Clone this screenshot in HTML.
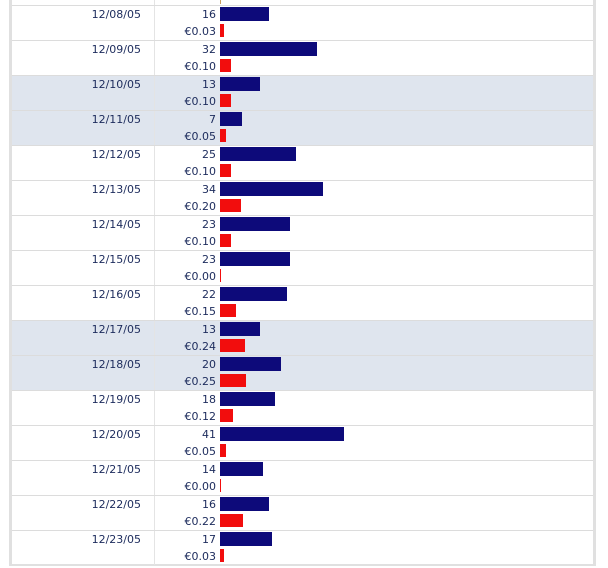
<!DOCTYPE html>
<html><head><meta charset="utf-8"><style>
body{margin:0;width:608px;height:568px;background:#fff;position:relative;overflow:hidden;font-family:"DejaVu Sans","Liberation Sans",sans-serif;font-size:11px;color:#1c2b5c}
.lb{position:absolute;left:9px;top:0;width:3px;height:566px;background:#e0e0e0}
.rb{position:absolute;left:593px;top:0;width:3px;height:566px;background:#e0e0e0}
.bb{position:absolute;left:9px;top:564px;width:587px;height:2px;background:#e0e0e0}
.r{position:absolute;left:12px;width:581px;height:35px;border-top:1px solid #dcdcdc;box-sizing:border-box}
.s{background:#dfe5ee}
.d{position:absolute;right:452px;top:1px;line-height:16px}
.n{position:absolute;right:377px;top:1px;line-height:16px}
.e{position:absolute;right:377px;top:18px;line-height:16px}
.v{position:absolute;left:142px;top:0;width:1px;height:34px;background:#e4e4e4}
.b{position:absolute;left:208px;top:1px;height:14px;background:#0d0a7a}
.x{position:absolute;left:208px;top:18px;height:13px;background:#f20d0d}
</style></head><body>
<div class="lb"></div><div class="rb"></div><div class="bb"></div>
<div style="position:absolute;left:154px;top:0;width:1px;height:5px;background:#e4e4e4"></div>
<div style="position:absolute;left:220px;top:0;width:1px;height:4px;background:#c8a060"></div>

<div class="r" style="top:5px"><div class="v"></div><div class="d">12/08/05</div><div class="n">16</div><div class="e">€0.03</div><div class="b" style="width:49px"></div><div class="x" style="width:4px"></div></div>
<div class="r" style="top:40px"><div class="v"></div><div class="d">12/09/05</div><div class="n">32</div><div class="e">€0.10</div><div class="b" style="width:97px"></div><div class="x" style="width:11px"></div></div>
<div class="r s" style="top:75px"><div class="v"></div><div class="d">12/10/05</div><div class="n">13</div><div class="e">€0.10</div><div class="b" style="width:40px"></div><div class="x" style="width:11px"></div></div>
<div class="r s" style="top:110px"><div class="v"></div><div class="d">12/11/05</div><div class="n">7</div><div class="e">€0.05</div><div class="b" style="width:22px"></div><div class="x" style="width:6px"></div></div>
<div class="r" style="top:145px"><div class="v"></div><div class="d">12/12/05</div><div class="n">25</div><div class="e">€0.10</div><div class="b" style="width:76px"></div><div class="x" style="width:11px"></div></div>
<div class="r" style="top:180px"><div class="v"></div><div class="d">12/13/05</div><div class="n">34</div><div class="e">€0.20</div><div class="b" style="width:103px"></div><div class="x" style="width:21px"></div></div>
<div class="r" style="top:215px"><div class="v"></div><div class="d">12/14/05</div><div class="n">23</div><div class="e">€0.10</div><div class="b" style="width:70px"></div><div class="x" style="width:11px"></div></div>
<div class="r" style="top:250px"><div class="v"></div><div class="d">12/15/05</div><div class="n">23</div><div class="e">€0.00</div><div class="b" style="width:70px"></div><div class="x" style="width:1px"></div></div>
<div class="r" style="top:285px"><div class="v"></div><div class="d">12/16/05</div><div class="n">22</div><div class="e">€0.15</div><div class="b" style="width:67px"></div><div class="x" style="width:16px"></div></div>
<div class="r s" style="top:320px"><div class="v"></div><div class="d">12/17/05</div><div class="n">13</div><div class="e">€0.24</div><div class="b" style="width:40px"></div><div class="x" style="width:25px"></div></div>
<div class="r s" style="top:355px"><div class="v"></div><div class="d">12/18/05</div><div class="n">20</div><div class="e">€0.25</div><div class="b" style="width:61px"></div><div class="x" style="width:26px"></div></div>
<div class="r" style="top:390px"><div class="v"></div><div class="d">12/19/05</div><div class="n">18</div><div class="e">€0.12</div><div class="b" style="width:55px"></div><div class="x" style="width:13px"></div></div>
<div class="r" style="top:425px"><div class="v"></div><div class="d">12/20/05</div><div class="n">41</div><div class="e">€0.05</div><div class="b" style="width:124px"></div><div class="x" style="width:6px"></div></div>
<div class="r" style="top:460px"><div class="v"></div><div class="d">12/21/05</div><div class="n">14</div><div class="e">€0.00</div><div class="b" style="width:43px"></div><div class="x" style="width:1px"></div></div>
<div class="r" style="top:495px"><div class="v"></div><div class="d">12/22/05</div><div class="n">16</div><div class="e">€0.22</div><div class="b" style="width:49px"></div><div class="x" style="width:23px"></div></div>
<div class="r" style="top:530px"><div class="v"></div><div class="d">12/23/05</div><div class="n">17</div><div class="e">€0.03</div><div class="b" style="width:52px"></div><div class="x" style="width:4px"></div></div>
</body></html>
